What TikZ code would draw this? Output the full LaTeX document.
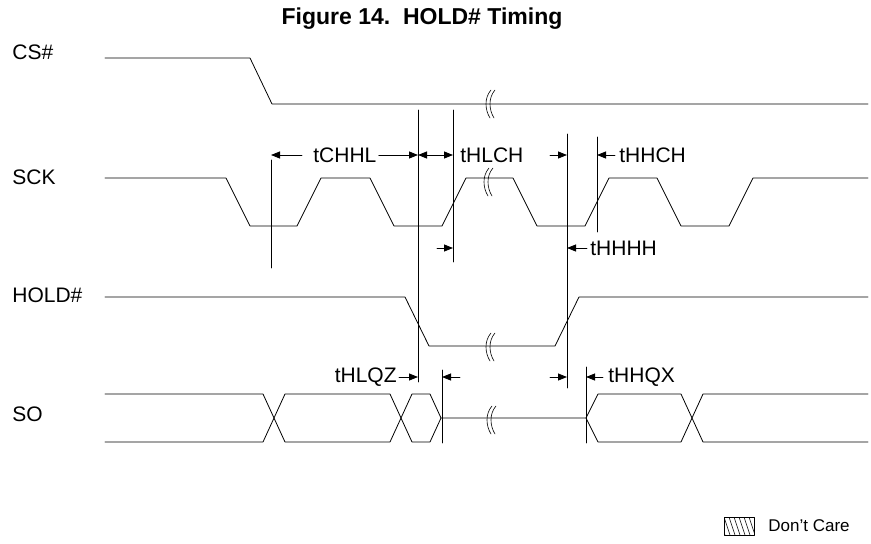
\documentclass[tikz,border=0pt]{standalone}
\usepackage{fontspec}
\setmainfont{Liberation Sans}
\usetikzlibrary{arrows.meta}
\begin{document}
\begin{tikzpicture}[x=1pt, y=-1pt, line join=round, line cap=round, line width=0.8pt,
		>={Triangle[length=9pt,width=7pt]}, font=\fontsize{21}{24}\selectfont,
		lbl/.style={inner sep=0pt, anchor=west},
		brk/.pic={\draw[line width=0.6pt] (2,-14) .. controls (-5,-6) and (-4,6) .. (1,14)
			(6,-14) .. controls (-1,-6) and (0,6) .. (5,14);}]
	\useasboundingbox (0,0) rectangle (871,544);
	\node (title) at (422,19) {\fontsize{23}{25}\selectfont\bfseries Figure 14.\ \ HOLD\# Timing};
	% signal names
	\node[lbl] (lcs) at (12,52) {CS\#};
	\node[lbl] (lsck) at (12,177) {SCK};
	\node[lbl] (lhold) at (12,295) {HOLD\#};
	\node[lbl] (lso) at (12,414) {SO};
	% waveforms
	\draw (105,58) -- (250,58) -- (272,104) -- (868,104);
	\draw (105,178) -- (226,178) -- (250,226) -- (297,226) -- (321,178) -- (370,178)
		-- (394,226) -- (442,226) -- (466,178) -- (513,178) -- (537,226) -- (585,226)
		-- (609,178) -- (657,178) -- (681,226) -- (729,226) -- (753,178) -- (868,178);
	\draw (105,297) -- (405,297) -- (429,346) -- (555,346) -- (579,297) -- (868,297);
	\draw (105,394) -- (263,394) -- (285,442) -- (390,442) -- (412,394) -- (430,394) -- (441,418)
		(105,442) -- (263,442) -- (285,394) -- (390,394) -- (412,442) -- (430,442) -- (441,418)
		-- (586,418) -- (598,394) -- (681,394) -- (703,442) -- (868,442)
		(586,418) -- (598,442) -- (681,442) -- (703,394) -- (868,394);
	% breaks
	\pic at (489,104) {brk};
	\pic at (487,182) {brk};
	\pic at (489,347) {brk};
	\pic at (490,420) {brk};
	% timing reference lines
	\draw (271,160) -- (271,268)
		(418,110) -- (418,382)
		(453,110) -- (453,262)
		(567,134) -- (567,388)
		(597,137) -- (597,232)
		(442,370) -- (442,443)
		(586,367) -- (586,443);
	\coordinate (a1) at (271,155);
	\coordinate (a2) at (418,155);
	\coordinate (a3) at (453,155);
	\coordinate (a4) at (567,155);
	\coordinate (a5) at (597,155);
	\coordinate (b1) at (453,248);
	\coordinate (b2) at (567,248);
	\coordinate (c1) at (418,377);
	\coordinate (c2) at (442,377);
	\coordinate (c3) at (567,377);
	\coordinate (c4) at (586,377);
	% timing labels
	\node[lbl] (tchhl) at (313,155) {tCHHL};
	\node[lbl] (thlch) at (460,155) {tHLCH};
	\node[lbl] (thhch) at (619,155) {tHHCH};
	\node[lbl] (thhhh) at (590,248) {tHHHH};
	\node[lbl, anchor=east] (thlqz) at (397,377) {tHLQZ};
	\node[lbl] (thhqx) at (608,377) {tHHQX};
	\draw[<-] (a1) -- ++(31,0);
	\draw[->] ([xshift=2pt]tchhl.east) -- (a2);
	\draw[<->] (a2) -- (a3);
	\draw[->] (a4) ++(-17,0) -- (a4);
	\draw[<-] (a5) -- ([xshift=-4pt]thhch.west);
	\draw[->] (b1) ++(-16,0) -- (b1);
	\draw[<-] (b2) -- ([xshift=-3pt]thhhh.west);
	\draw[->] ([xshift=2pt]thlqz.east) -- (c1);
	\draw[<-] (c2) -- ++(18,0);
	\draw[->] (c3) ++(-17,0) -- (c3);
	\draw[<-] (c4) -- ([xshift=-5pt]thhqx.west);
	% legend
	\begin{scope}
		\clip (724,517) rectangle (754,535);
		\foreach \i in {-2,...,8}
			\draw[line width=0.5pt] (724+\i*5,517) -- (730+\i*5,535);
	\end{scope}
	\draw[line width=0.5pt] (724,517) rectangle (754,535);
	\node[lbl] (dc) at (768,526) {\fontsize{17}{19}\selectfont Don’t Care};
\end{tikzpicture}
\end{document}
